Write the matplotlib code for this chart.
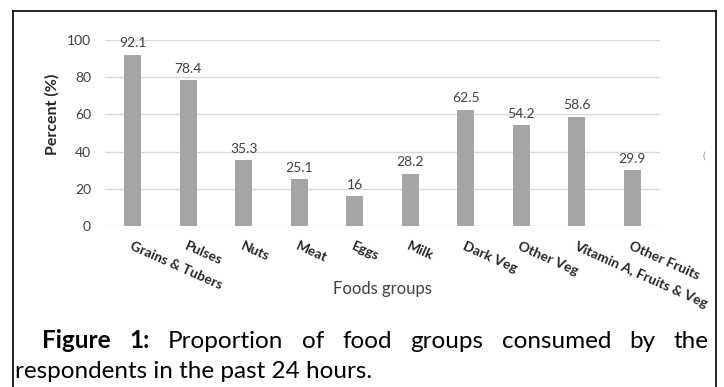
import matplotlib
matplotlib.use("Agg")
import matplotlib.pyplot as plt
from matplotlib.lines import Line2D

# food group consumption, % of respondents (24h recall)
groups = ["Grains & Tubers", "Pulses", "Nuts", "Meat", "Eggs", "Milk",
          "Dark Veg", "Other Veg", "Vitamin A, Fruits & Veg", "Other Fruits"]
percent = [92.1, 78.4, 35.3, 25.1, 16, 28.2, 62.5, 54.2, 58.6, 29.9]
yticks = [0, 20, 40, 60, 80, 100]

caption_line1 = [("Figure", "bold"), ("1:", "bold"), ("Proportion", "normal"),
                 ("of", "normal"), ("food", "normal"), ("groups", "normal"),
                 ("consumed", "normal"), ("by", "normal"), ("the", "normal")]
caption_line2 = "respondents in the past 24 hours."

plt.rcParams["font.family"] = ["Lato", "DejaVu Sans"]

W, H = 724, 387
fig = plt.figure(figsize=(W / 100, H / 100), dpi=100)
ax = fig.add_axes([105 / W, 1 - 226 / H, 555 / W, 186 / H])

x = list(range(len(groups)))
bars = ax.bar(x, percent, width=0.31, color="#a5a5a5", zorder=3)
for b, v in zip(bars, percent):
    ax.annotate(f"{v:g}", (b.get_x() + b.get_width() / 2, v),
                xytext=(0, 4), textcoords="offset points",
                ha="center", va="bottom", fontsize=10, color="#404040")

ax.set_xlim(-0.5, len(groups) - 0.5)
ax.set_ylim(0, 100)
ax.set_yticks(yticks)
ax.yaxis.grid(True, color="#d9d9d9", linewidth=1, zorder=0)
ax.tick_params(axis="both", length=0, labelsize=10, colors="#404040")
ax.tick_params(axis="y", pad=10)
for s in ax.spines.values():
    s.set_visible(False)

ax.set_xticks(x)
ax.set_xticklabels(groups, rotation=-24, ha="left", va="top",
                   rotation_mode="anchor", fontweight="bold",
                   fontsize=10, color="#262626")
ax.tick_params(axis="x", pad=10)

ax.set_ylabel("Percent (%)", fontweight="bold", fontsize=11.5, color="#262626")
ax.yaxis.set_label_coords(-0.082, 0.6)
fig.text(382 / W, 1 - 289 / H, "Foods groups", ha="center", va="center",
         fontsize=12, color="#404040")

# stray legend remnant at the right edge
fig.text(704 / W, 1 - 156 / H, "(", ha="center", va="center",
         fontsize=7, color="#909090")

# outer frame (open at the bottom)
for xs, ys in [([13, 716], [11, 11]), ([13, 13], [11, 387]), ([716, 716], [11, 387])]:
    fig.add_artist(Line2D([v / W for v in xs], [1 - v / H for v in ys],
                          color="black", linewidth=1.2))

# justified caption
fig.canvas.draw()
rend = fig.canvas.get_renderer()
fs = 17.5
texts = []
for w, fw in caption_line1:
    t = fig.text(0, 1 - 341 / H, w, fontsize=fs, fontweight=fw,
                 color="black", va="center", ha="left")
    texts.append(t)
widths = [t.get_window_extent(rend).width for t in texts]
x0, x1 = 42, 709
gap = (x1 - x0 - sum(widths)) / (len(texts) - 1)
cur = x0
for t, wd in zip(texts, widths):
    t.set_x(cur / W)
    cur += wd + gap
fig.text(15 / W, 1 - 372 / H, caption_line2, fontsize=fs, color="black",
         va="center", ha="left")

fig.savefig("out.png", dpi=100)
